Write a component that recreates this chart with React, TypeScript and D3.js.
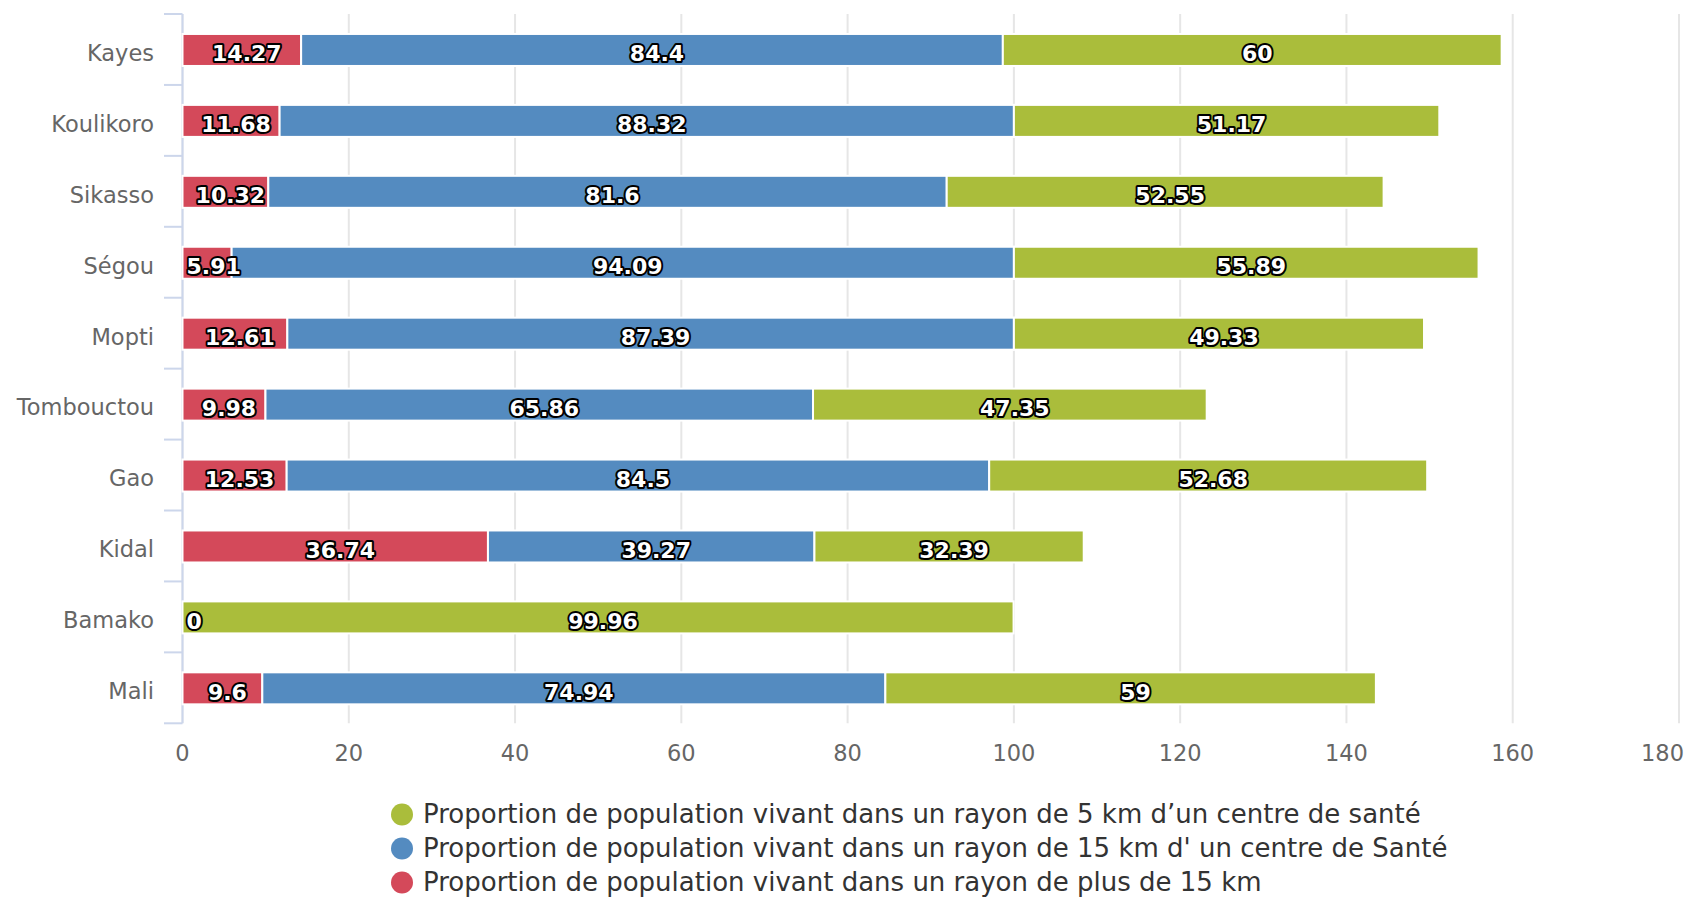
import React from "react";
import * as d3 from "d3";

const categories = ["Kayes", "Koulikoro", "Sikasso", "Ségou", "Mopti", "Tombouctou", "Gao", "Kidal", "Bamako", "Mali"];
const plus15: (number | null)[] = [14.27, 11.68, 10.32, 5.91, 12.61, 9.98, 12.53, 36.74, 0, 9.6];
const within15: (number | null)[] = [84.4, 88.32, 81.6, 94.09, 87.39, 65.86, 84.5, 39.27, null, 74.94];
const within5: (number | null)[] = [60, 51.17, 52.55, 55.89, 49.33, 47.35, 52.68, 32.39, 99.96, 59];
const xTicks = [0, 20, 40, 60, 80, 100, 120, 140, 160, 180];

const seriesNames = [
  "Proportion de population vivant dans un rayon de 5 km d\u2019un centre de santé",
  "Proportion de population vivant dans un rayon de 15 km d' un centre de Santé",
  "Proportion de population vivant dans un rayon de plus de 15 km",
];
const colors = { red: "#d4495a", blue: "#548bc0", green: "#aabd3b" };

const W = 1688, H = 897;
const plotLeft = 182.5, plotRight = 1679, plotTop = 14, plotBottom = 723.3;
const FONT = "'DejaVu Sans', Verdana, sans-serif";

function boldW(s: string, fs: number) {
  let w = 0;
  for (const c of s) w += c === "." ? 0.38 : 0.696;
  return w * fs;
}

export default function App() {
  const x = d3.scaleLinear().domain([0, 180]).range([plotLeft, plotRight]);
  const y = d3.scaleBand().domain(categories).range([plotTop, plotBottom]);
  const barH = 32;
  const stackOrder = [
    { vals: plus15, color: colors.red },
    { vals: within15, color: colors.blue },
    { vals: within5, color: colors.green },
  ];

  const segs: any[] = [];
  categories.forEach((cat, i) => {
    let acc = 0;
    stackOrder.forEach((s, si) => {
      const v = s.vals[i];
      if (v === null || v === undefined) return;
      segs.push({ cat, x0: acc, x1: acc + v, v, color: s.color, key: `${i}-${si}` });
      acc += v;
    });
  });

  const labelFs = 22;
  const axisFs = 22.5;
  const legendItems = [
    { name: seriesNames[0], color: colors.green },
    { name: seriesNames[1], color: colors.blue },
    { name: seriesNames[2], color: colors.red },
  ];
  const legendY = [813.5, 847.5, 881.5];

  return (
    <svg width={W} height={H} style={{ position: "absolute", left: 0, top: 0, background: "#fff" }} fontFamily={FONT}>
      {/* grid */}
      {xTicks.map((t) => (
        <line key={"g" + t} x1={x(t)} x2={x(t)} y1={plotTop} y2={plotBottom} stroke="#e6e6e6" strokeWidth={2} />
      ))}
      {/* y axis line and ticks */}
      <line x1={plotLeft} x2={plotLeft} y1={plotTop} y2={plotBottom} stroke="#ccd6eb" strokeWidth={2} />
      {categories.map((c, i) => (
        <line key={"t" + i} x1={164} x2={plotLeft} y1={y(c)!} y2={y(c)!} stroke="#ccd6eb" strokeWidth={2} />
      ))}
      <line x1={164} x2={plotLeft} y1={plotBottom} y2={plotBottom} stroke="#ccd6eb" strokeWidth={2} />
      {/* category labels */}
      {categories.map((c) => (
        <text key={"c" + c} x={154} y={y(c)! + y.bandwidth() / 2 + 3.5} dy="0.35em" textAnchor="end" fontSize={axisFs} fill="#666666">
          {c}
        </text>
      ))}
      {/* x labels */}
      {xTicks.map((t) => {
        const w = String(t).length * 0.636 * axisFs;
        const cx = Math.min(x(t), W - 4 - w / 2);
        return (
          <text key={"xl" + t} x={cx} y={753} dy="0.35em" textAnchor="middle" fontSize={axisFs} fill="#666666">
            {t}
          </text>
        );
      })}
      {/* bars */}
      {segs.map((s) => (
        <rect
          key={"r" + s.key}
          x={x(s.x0)}
          width={Math.max(0, x(s.x1) - x(s.x0))}
          y={y(s.cat)! + y.bandwidth() / 2 + 0.5 - barH / 2}
          height={barH}
          fill={s.color}
          stroke="#ffffff"
          strokeWidth={2}
        />
      ))}
      {/* data labels */}
      {segs.map((s) => {
        const txt = String(s.v);
        const w = boldW(txt, labelFs);
        let cx = (x(s.x0) + x(s.x1)) / 2 + 5;
        cx = Math.max(cx, plotLeft + 4 + w / 2);
        return (
          <text
            key={"l" + s.key}
            x={cx}
            y={y(s.cat)! + y.bandwidth() / 2 + 4}
            dy="0.35em"
            textAnchor="middle"
            fontSize={labelFs}
            fontWeight="bold"
            fill="#ffffff"
            stroke="#000000"
            strokeWidth={4}
            strokeLinejoin="round"
            paintOrder="stroke"
          >
            {txt}
          </text>
        );
      })}
      {/* legend */}
      {legendItems.map((l, i) => (
        <g key={"lg" + i}>
          <circle cx={402} cy={legendY[i] + 1} r={11} fill={l.color} />
          <text x={423} y={legendY[i]} dy="0.35em" fontSize={26} fill="#333333">
            {l.name}
          </text>
        </g>
      ))}
    </svg>
  );
}
